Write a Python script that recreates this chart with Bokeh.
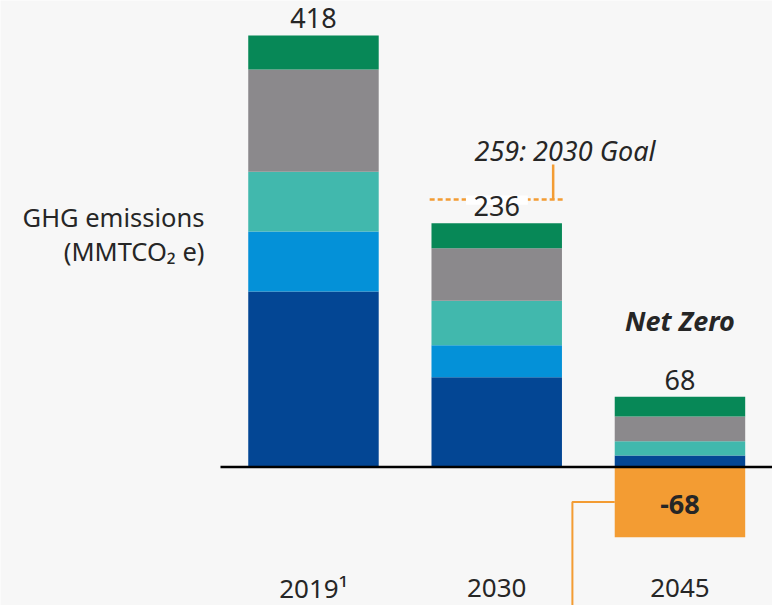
from bokeh.plotting import figure
from bokeh.models import ColumnDataSource, Range1d
from bokeh.core.properties import value
from bokeh.embed import file_html
from bokeh.resources import INLINE

# ---- data ----
years = ["2019", "2030", "2045"]
year_labels = ["2019\u00b9", "2030", "2045"]
series_names = ["s1", "s2", "s3", "s4", "s5"]
s1 = [170, 87, 11]   # dark blue
s2 = [58, 31, 0]     # blue
s3 = [58, 43, 14]    # teal
s4 = [99, 51, 24]    # gray
s5 = [33, 24, 19]    # green
totals = [418, 236, 68]
goal_2030 = 259
goal_label = "259: 2030 Goal"
offset_2045 = -68
net_zero_label = "Net Zero"
y_title = ["GHG emissions", "(MMTCO\u2082 e)"]

colors = ["#034694", "#0491d8", "#41b8ad", "#8b898c", "#078857"]
orange = "#f39c33"
txt = "#262626"
bg = "#f7f7f7"
FONT = "Noto Sans"
BASE = -10  # baseline correction in px

xs = list(range(len(years)))
src = ColumnDataSource(dict(x=xs, s1=s1, s2=s2, s3=s3, s4=s4, s5=s5))

p = figure(width=772, height=605, output_backend="svg", toolbar_location=None,
           x_range=Range1d(-1.708, 2.505), y_range=Range1d(-134.2, 451.9),
           min_border=0, background_fill_color=bg, border_fill_color=bg)
p.axis.visible = False
p.grid.visible = False
p.outline_line_color = None

W = 0.712
p.vbar_stack(series_names, x="x", width=W, color=colors, line_color=None, source=src)

# offset bar
p.vbar(x=[xs[2]], top=[0], bottom=[offset_2045], width=W, color=orange, line_color=None)

# zero line
p.segment(x0=[-0.5075], y0=[0], x1=[2.6], y1=[0], line_color="black", line_width=2.5)

# goal line (dotted) across 2030
gx = xs[1]
p.segment(x0=[gx - 0.366], y0=[goal_2030], x1=[gx + 0.366], y1=[goal_2030],
          line_color=orange, line_width=2.5, line_dash="5 3")
# white box behind 2030 total label
p.quad(left=[gx - 0.168], right=[gx + 0.17], bottom=[goal_2030 - 5], top=[goal_2030 + 4],
       fill_color="white", line_color=None)
# goal tick
p.segment(x0=[gx + 0.308], y0=[goal_2030], x1=[gx + 0.308], y1=[goal_2030 + 34],
          line_color=orange, line_width=2.5)
p.text(x=[gx - 0.121], y=[goal_2030 + 38], text=[goal_label], text_font=value(FONT),
       text_font_style="italic", text_font_size="27px", text_color=txt,
       text_align="left", text_baseline="alphabetic", y_offset=BASE)

# totals labels
p.text(x=xs, y=totals, text=[str(t) for t in totals], text_font=value(FONT),
       text_font_size="27px", text_color=txt, text_align="center",
       text_baseline="alphabetic", y_offset=BASE - 7)

# offset label
p.text(x=[xs[2]], y=[offset_2045 / 2], text=[str(offset_2045)], text_font=value(FONT),
       text_font_style="bold", text_font_size="27px", text_color=txt,
       text_align="center", text_baseline="middle", y_offset=2)

# connector line from offset bar
p.line(x=[xs[2] - W / 2, 1.413, 1.413], y=[offset_2045 / 2, offset_2045 / 2, -140],
       line_color=orange, line_width=2)

# net zero label
p.text(x=[xs[2]], y=[132], text=[net_zero_label], text_font=value(FONT),
       text_font_style="bold italic", text_font_size="27px", text_color=txt,
       text_align="center", text_baseline="alphabetic", y_offset=BASE)

# year labels
p.text(x=xs, y=[-127.4] * 3, text=year_labels, text_font=value(FONT),
       text_font_size="26px", text_color=txt, text_align="center",
       text_baseline="alphabetic", y_offset=BASE)

# y title
p.text(x=[-0.595, -0.595], y=[232, 200], text=y_title, text_font=value(FONT),
       text_font_size="25.5px", text_color=txt, text_align="right",
       text_baseline="alphabetic", y_offset=BASE)

open("out.html", "w").write(file_html(p, INLINE))
